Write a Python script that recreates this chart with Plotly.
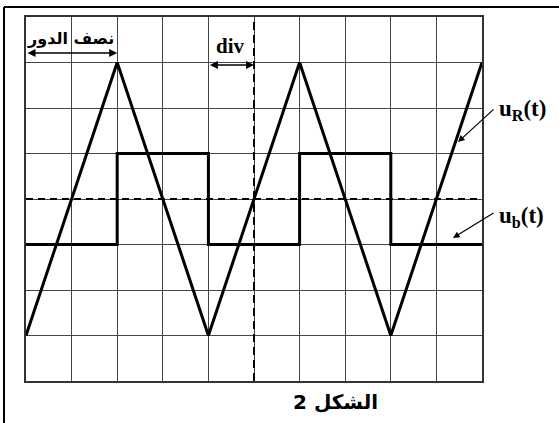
import plotly.graph_objects as go

# ---- data ----
t_tri = [0, 2, 4, 6, 8, 10]
u_R = [-3, 3, -3, 3, -3, 3]
t_sq = [0, 2, 2, 4, 4, 6, 6, 8, 8, 10]
u_b = [-1, -1, 1, 1, -1, -1, 1, 1, -1, -1]
label_R = "<b>u<sub>R</sub>(t)</b>"
label_b = "<b>u<sub>b</sub>(t)</b>"
label_half = "<b>نصف الدور</b>"
label_div = "<b>div</b>"
caption = "<b>الشكل 2</b>"

W, H = 559, 423
L, R, T, B = 26, 77, 17, 42
pw, ph = W - L - R, H - T - B

def px2x(px):
    return (px - L) / pw * 10

def py2y(py):
    return 4 - (py - T) / ph * 8

def px2p(px):
    return (px - L) / pw

def py2p(py):
    return (H - B - py) / ph

fig = go.Figure()
fig.add_trace(go.Scatter(x=t_tri, y=u_R, mode="lines",
                         line=dict(color="black", width=3), hoverinfo="skip",
                         cliponaxis=False))
fig.add_trace(go.Scatter(x=t_sq, y=u_b, mode="lines",
                         line=dict(color="black", width=3), hoverinfo="skip",
                         cliponaxis=False))

axis_common = dict(showgrid=True, gridcolor="#444", gridwidth=1, dtick=1,
                   zeroline=False, showticklabels=False, ticks="",
                   showline=True, mirror=True, linecolor="#333", linewidth=1.5,
                   fixedrange=True)

fig.update_layout(
    width=W, height=H,
    margin=dict(l=L, r=R, t=T, b=B, pad=0),
    paper_bgcolor="white", plot_bgcolor="white",
    showlegend=False,
    xaxis=dict(range=[0, 10], tick0=0, **axis_common),
    yaxis=dict(range=[-4, 4], tick0=-4, **axis_common),
)

# dashed center lines
fig.add_shape(type="line", x0=5, x1=5, y0=-4, y1=4, xref="x", yref="y",
              line=dict(color="black", width=2, dash="8px,5px"))
fig.add_shape(type="line", x0=0, x1=10, y0=0, y1=0, xref="x", yref="y",
              line=dict(color="black", width=2, dash="7px,5px"))

# outer frame (top and left)
fig.add_shape(type="line", xref="paper", yref="paper",
              x0=px2p(4), x1=px2p(W + 5), y0=py2p(7), y1=py2p(7),
              line=dict(color="black", width=2))
fig.add_shape(type="line", xref="paper", yref="paper",
              x0=px2p(4), x1=px2p(4), y0=py2p(7), y1=py2p(H + 5),
              line=dict(color="black", width=2))

# double arrows
fig.add_annotation(x=2, y=py2y(53), ax=0, ay=py2y(53), xref="x", yref="y",
                   axref="x", ayref="y", text="", showarrow=True,
                   arrowhead=2, startarrowhead=2, arrowside="end+start",
                   arrowwidth=1.6, arrowsize=1, startarrowsize=1, arrowcolor="black")
fig.add_annotation(x=5, y=py2y(65), ax=4, ay=py2y(65), xref="x", yref="y",
                   axref="x", ayref="y", text="", showarrow=True,
                   arrowhead=2, startarrowhead=2, arrowside="end+start",
                   arrowwidth=1.6, arrowsize=1, startarrowsize=1, arrowcolor="black")

def txt(x, y, text, family, size, xanchor="center"):
    fig.add_annotation(x=px2p(x), y=py2p(y), xref="paper", yref="paper", text=text,
                       xanchor=xanchor, yanchor="middle", showarrow=False,
                       font=dict(family=family, size=size, color="black"))

txt(70, 38, label_half, "DejaVu Sans", 16)
txt(230, 46, label_div, "Liberation Serif, Times New Roman, serif", 21)

# labels with pointer arrows
fig.add_annotation(x=px2x(458), y=py2y(142), ax=px2x(495), ay=py2y(108),
                   xref="x", yref="y", axref="x", ayref="y", text="",
                   showarrow=True, arrowhead=2, arrowwidth=1.2, arrowsize=1.1,
                   arrowcolor="black")
fig.add_annotation(x=px2x(453), y=py2y(238), ax=px2x(495), ay=py2y(212),
                   xref="x", yref="y", axref="x", ayref="y", text="",
                   showarrow=True, arrowhead=2, arrowwidth=1.2, arrowsize=1.1,
                   arrowcolor="black")
txt(497, 110, label_R, "Liberation Serif, Times New Roman, serif", 23, xanchor="left")
txt(497, 217, label_b, "Liberation Serif, Times New Roman, serif", 23, xanchor="left")

txt(335, 402, caption, "DejaVu Sans", 20)

fig.write_html("out.html", config={"displayModeBar": False},
               post_script="document.body.style.margin='0px';")
